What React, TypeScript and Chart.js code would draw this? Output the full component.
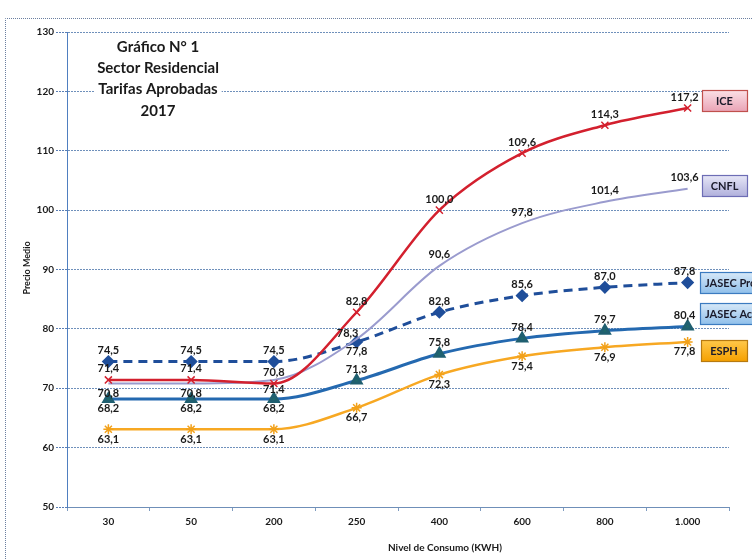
import React, { useEffect, useRef } from 'react';
import { Chart, registerables } from 'chart.js';

Chart.register(...registerables);

const categories = ['30', '50', '200', '250', '400', '600', '800', '1.000'];
const seriesNames = ['ICE', 'CNFL', 'JASEC Pro', 'JASEC Ac', 'ESPH'];
const iceValues = [71.4, 71.4, 70.8, 82.8, 100.0, 109.6, 114.3, 117.2];
const cnflValues = [70.8, 70.8, 71.4, 78.3, 90.6, 97.8, 101.4, 103.6];
const jasecProValues = [74.5, 74.5, 74.5, 77.8, 82.8, 85.6, 87.0, 87.8];
const jasecAcValues = [68.2, 68.2, 68.2, 71.3, 75.8, 78.4, 79.7, 80.4];
const esphValues = [63.1, 63.1, 63.1, 66.7, 72.3, 75.4, 76.9, 77.8];
const yMin = 50;
const yMax = 130;
const yStep = 10;
const titleLines = ['Gráfico N° 1', 'Sector Residencial', 'Tarifas Aprobadas', '2017'];
const xAxisTitle = 'Nivel de Consumo (KWH)';
const yAxisTitle = 'Precio Medio';

// style: label placement per point ('a' above, 'b' below, 'l' above-left)
const labelSides: Record<string, string[]> = {
  ICE: ['a', 'a', 'a', 'a', 'a', 'a', 'a', 'a'],
  CNFL: ['b', 'b', 'b', 'l', 'a', 'a', 'a', 'a'],
  'JASEC Pro': ['a', 'a', 'a', 'b', 'a', 'a', 'a', 'a'],
  'JASEC Ac': ['b', 'b', 'b', 'a', 'a', 'a', 'a', 'a'],
  ESPH: ['b', 'b', 'b', 'b', 'b', 'b', 'b', 'b'],
};

const boxStyles: Record<string, { x: number; w: number; dy: number; top: string; bottom: string; border: string }> = {
  ICE: { x: 702, w: 45, dy: -7, top: '#FBE0E6', bottom: '#E9A3B5', border: '#C0504D' },
  CNFL: { x: 702, w: 45, dy: -3, top: '#E6E6F6', bottom: '#B0B0DC', border: '#6D6DB5' },
  'JASEC Pro': { x: 700, w: 70, dy: 0, top: '#D6E8F8', bottom: '#8FBFEA', border: '#3B7BC0' },
  'JASEC Ac': { x: 700, w: 70, dy: -13, top: '#D6E8F8', bottom: '#8FBFEA', border: '#3B7BC0' },
  ESPH: { x: 701, w: 46, dy: 9, top: '#FFC84A', bottom: '#F5A000', border: '#B77A10' },
};

const FONT = 'Lato, "Open Sans", sans-serif';

const fmt = (v: number) => v.toFixed(1).replace('.', ',');

const decorPlugin = {
  id: 'decor',
  beforeDraw(chart: any) {
    const ctx = chart.ctx;
    ctx.save();
    ctx.fillStyle = '#ffffff';
    ctx.fillRect(0, 0, chart.width, chart.height);
    ctx.strokeStyle = '#6b7fa0';
    ctx.lineWidth = 1;
    ctx.setLineDash([1, 1]);
    ctx.beginPath();
    ctx.moveTo(5.5, chart.height);
    ctx.lineTo(5.5, 18.5);
    ctx.lineTo(chart.width, 18.5);
    ctx.stroke();
    ctx.restore();
  },
  afterDatasetsDraw(chart: any) {
    const ctx = chart.ctx;
    ctx.save();
    // left axis line (solid)
    const ca = chart.chartArea;
    ctx.strokeStyle = '#4f7fc0';
    ctx.lineWidth = 1;
    ctx.beginPath();
    ctx.moveTo(Math.round(ca.left) + 0.5, ca.top);
    ctx.lineTo(Math.round(ca.left) + 0.5, ca.bottom);
    ctx.stroke();
    // data labels
    ctx.font = `bold 11px ${FONT}`;
    ctx.fillStyle = '#1a1a1a';
    ctx.textAlign = 'center';
    ctx.textBaseline = 'middle';
    chart.data.datasets.forEach((ds: any, di: number) => {
      const meta = chart.getDatasetMeta(di);
      const sides = labelSides[ds.label];
      meta.data.forEach((pt: any, i: number) => {
        const side = sides[i];
        let dx = i === meta.data.length - 1 ? -3 : 0;
        let dy = -11;
        if (side === 'b') dy = 10;
        if (side === 'l') { dx = -9; dy = -6; }
        ctx.fillText(fmt(ds.data[i]), pt.x + dx, pt.y + dy);
      });
    });
    // series boxes
    chart.data.datasets.forEach((ds: any, di: number) => {
      const meta = chart.getDatasetMeta(di);
      const last = meta.data[meta.data.length - 1];
      const st = boxStyles[ds.label];
      const h = 21;
      const cy = last.y + st.dy;
      const top = Math.round(cy - h / 2) + 0.5;
      const g = ctx.createLinearGradient(0, top, 0, top + h);
      g.addColorStop(0, st.top);
      g.addColorStop(1, st.bottom);
      ctx.fillStyle = g;
      ctx.fillRect(st.x + 0.5, top, st.w, h);
      ctx.strokeStyle = st.border;
      ctx.lineWidth = 1.2;
      ctx.strokeRect(st.x + 0.5, top, st.w, h);
      ctx.fillStyle = '#1a1a2a';
      ctx.font = `bold 11px ${FONT}`;
      ctx.textBaseline = 'middle';
      if (st.w > 60) {
        ctx.textAlign = 'left';
        ctx.fillText(ds.label, st.x + 5, top + h / 2 + 0.5);
      } else {
        ctx.textAlign = 'center';
        ctx.fillText(ds.label, st.x + st.w / 2, top + h / 2 + 0.5);
      }
    });
    // title block
    ctx.font = `bold 15px ${FONT}`;
    ctx.textAlign = 'center';
    ctx.textBaseline = 'middle';
    const cx = 158;
    titleLines.forEach((t, i) => {
      const y = 47 + i * 21.3;
      const w = ctx.measureText(t).width;
      ctx.fillStyle = '#ffffff';
      ctx.fillRect(cx - w / 2 - 4, y - 9, w + 8, 18);
      ctx.fillStyle = '#1a1a1a';
      ctx.fillText(t, cx, y);
    });
    // axis titles
    ctx.font = `bold 10px ${FONT}`;
    ctx.fillStyle = '#1a1a1a';
    ctx.fillText(xAxisTitle, 445, 548);
    ctx.save();
    ctx.translate(27, 268);
    ctx.rotate(-Math.PI / 2);
    ctx.font = `bold 9px ${FONT}`;
    ctx.fillText(yAxisTitle, 0, 0);
    ctx.restore();
    ctx.restore();
  },
};

export default function App() {
  const ref = useRef<HTMLCanvasElement | null>(null);
  useEffect(() => {
    document.body.style.margin = '0';
    if (!ref.current) return;
    const chart = new Chart(ref.current, {
      type: 'line',
      data: {
        labels: categories,
        datasets: [
          {
            label: seriesNames[0],
            data: iceValues,
            borderColor: '#D3202E',
            backgroundColor: '#D3202E',
            borderWidth: 2.5,
            pointStyle: 'crossRot',
            pointRadius: 5,
            pointBorderWidth: 1.5,
            pointBorderColor: '#D3202E',
            cubicInterpolationMode: 'monotone',
          },
          {
            label: seriesNames[1],
            data: cnflValues,
            borderColor: '#9A9BCE',
            backgroundColor: '#9A9BCE',
            borderWidth: 2,
            pointRadius: 0,
            cubicInterpolationMode: 'monotone',
          },
          {
            label: seriesNames[2],
            data: jasecProValues,
            borderColor: '#1F4E9A',
            backgroundColor: '#1F4E9A',
            borderWidth: 3,
            borderDash: [9, 6],
            pointStyle: 'rectRot',
            pointRadius: 4.5,
            pointBackgroundColor: '#1F4E9A',
            pointBorderColor: '#1F4E9A',
            cubicInterpolationMode: 'monotone',
          },
          {
            label: seriesNames[3],
            data: jasecAcValues,
            borderColor: '#2469B0',
            backgroundColor: '#2469B0',
            borderWidth: 3,
            pointStyle: 'triangle',
            pointRadius: 5,
            pointBackgroundColor: '#1F6A6A',
            pointBorderColor: '#1F5F70',
            cubicInterpolationMode: 'monotone',
          },
          {
            label: seriesNames[4],
            data: esphValues,
            borderColor: '#F7A823',
            backgroundColor: '#F7A823',
            borderWidth: 2.5,
            pointStyle: 'star',
            pointRadius: 5,
            pointBorderWidth: 1.5,
            pointBorderColor: '#F2A11A',
            cubicInterpolationMode: 'monotone',
          },
        ],
      },
      options: {
        responsive: false,
        animation: false,
        devicePixelRatio: 1,
        layout: { padding: { top: 32, right: 23, left: 0, bottom: 0 } },
        plugins: {
          legend: { display: false },
          tooltip: { enabled: false },
          title: { display: false },
        },
        scales: {
          x: {
            offset: true,
            afterFit: (s: any) => { s.height = 52; },
            grid: {
              offset: true,
              drawOnChartArea: false,
              drawTicks: true,
              tickLength: 4,
              color: '#7f9cc0',
            },
            border: { color: '#6f8fb8', dash: [2, 1], width: 1 },
            ticks: {
              color: '#1a1a1a',
              padding: 5,
              font: { family: FONT, size: 10, weight: 'bold' },
            },
          },
          y: {
            min: yMin,
            max: yMax,
            afterFit: (s: any) => { s.width = 67; },
            grid: {
              color: '#6f90bb',
              tickLength: 11,
              tickColor: '#5b7fb5',
              tickBorderDash: [2, 1],
              lineWidth: 1,
            },
            border: { color: '#4f7fc0', width: 1, dash: [2, 1] },
            ticks: {
              stepSize: yStep,
              color: '#1a1a1a',
              padding: 2,
              font: { family: FONT, size: 10, weight: 'bold' },
            },
          },
        },
      },
      plugins: [decorPlugin],
    } as any);
    return () => chart.destroy();
  }, []);
  return (
    <div style={{ width: 752, height: 559, position: 'relative' }}>
      <canvas ref={ref} width={752} height={559} style={{ display: 'block' }} />
    </div>
  );
}
